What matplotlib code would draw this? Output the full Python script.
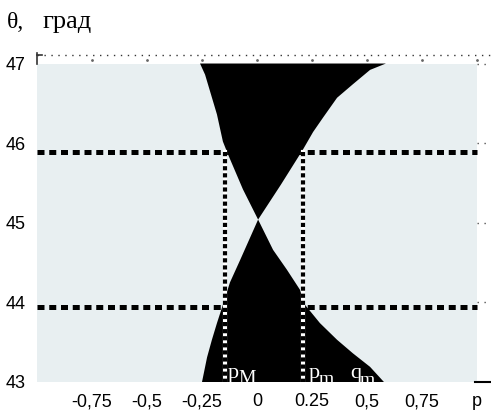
import numpy as np
import matplotlib.pyplot as plt
from matplotlib.patches import Rectangle

# boundaries of the black region, (theta in degrees, p)
ul_theta = [47.0, 46.86, 46.36, 46.02, 45.86, 45.42, 45.04]
ul_p = [-0.259, -0.236, -0.182, -0.155, -0.132, -0.064, 0.005]
ur_theta = [47.0, 46.92, 46.74, 46.57, 46.32, 46.14, 45.92, 45.48, 45.04]
ur_p = [0.586, 0.514, 0.436, 0.364, 0.300, 0.255, 0.209, 0.109, 0.005]
ll_theta = [45.04, 44.53, 44.25, 43.97, 43.74, 43.53, 43.31, 43.0]
ll_p = [0.005, -0.077, -0.123, -0.155, -0.182, -0.205, -0.227, -0.25]
lr_theta = [45.04, 44.66, 44.41, 44.16, 43.97, 43.74, 43.53, 43.36, 43.19, 43.0]
lr_p = [0.005, 0.073, 0.136, 0.195, 0.218, 0.286, 0.364, 0.436, 0.514, 0.577]

theta_levels = [45.89, 43.94]     # horizontal dashed lines
p_levels = [-0.145, 0.209]        # vertical dotted lines (p_M, p_m)

xticks = [-0.75, -0.5, -0.25, 0, 0.25, 0.5, 0.75, 1.0]
xticklabels = ['-0,75', '-0,5', '-0,25', '0', '0.25', '0,5', '0,75', 'p']
yticks = [43, 44, 45, 46, 47]

fig = plt.figure(figsize=(4.91, 4.17), dpi=100)
ax = fig.add_axes([37/491, 35/417, 454/491, 328/417])
xmax = 1 + 14/220
ymax = 47 + 9.5/79.5
ax.set_xlim(-1, xmax)
ax.set_ylim(43, ymax)
for s in ax.spines.values():
    s.set_visible(False)

ax.add_patch(Rectangle((-1, 43), 2, 4, facecolor='#e8eff1', edgecolor='none', zorder=0))

ax.fill(ul_p + ur_p[::-1], ul_theta + ur_theta[::-1], color='black', lw=0, zorder=1)
ax.fill(ll_p + lr_p[::-1], ll_theta + lr_theta[::-1], color='black', lw=0, zorder=1)

for t in theta_levels:
    ax.plot([-1, 1], [t, t], color='black', lw=3.6, linestyle=(0, (1.4, 0.95)), zorder=3)
for p in p_levels:
    ax.plot([p, p], [theta_levels[0], 43], color='white', lw=3.0, zorder=4)
    ax.plot([p, p], [theta_levels[0], 43], color='black', lw=3.0, linestyle=(0, (1.0, 0.7)), zorder=5)

# frame leftovers
ax.plot([-1, xmax], [47.11, 47.11], color='#333333', lw=1, linestyle=(0, (1, 4)), clip_on=False)
ax.plot(xticks, [47.05] * len(xticks), ls='none', marker='.', ms=2, color='#666666')
for t in yticks[1:]:
    ax.plot([1.0, xmax], [t, t], color='#555555', lw=1, linestyle=(0, (1, 4)))
ax.plot([0.99, xmax], [43.0, 43.0], color='black', lw=1.5, clip_on=False)
ax.plot([-1, -1], [47.0, 47.13], color='#333333', lw=1.2, clip_on=False)
ax.plot([-1, -0.975], [47.11, 47.11], color='#333333', lw=1.2, clip_on=False)

serif = 'Liberation Serif'
def label(x, y, main, sub, xs, ys):
    ax.text(x, y, main, color='white', family=serif, fontsize=16, va='baseline', zorder=6, clip_on=True)
    ax.text(xs, ys, sub, color='white', family=serif, fontsize=14, va='baseline', zorder=6, clip_on=True)

label(-0.134, 43.05, 'p', 'M', -0.085, 42.985)
label(0.234, 43.05, 'p', 'm', 0.279, 42.97)
label(0.423, 43.05, 'q', 'm', 0.468, 42.96)

ax.set_xticks(xticks)
ax.set_xticklabels(xticklabels, family='Liberation Sans', fontsize=13)
ax.set_yticks(yticks)
ax.set_yticklabels([str(v) for v in yticks], family='Liberation Sans', fontsize=13)
ax.tick_params(axis='x', length=0, pad=8)
ax.tick_params(axis='y', length=0, pad=8)

fig.text(7/491, 1 - 28/417, 'θ,', family=serif, fontsize=17, va='baseline')
fig.text(42/491, 1 - 28/417, 'град', family=serif, fontsize=19, va='baseline')

fig.savefig('out.png', dpi=100)
